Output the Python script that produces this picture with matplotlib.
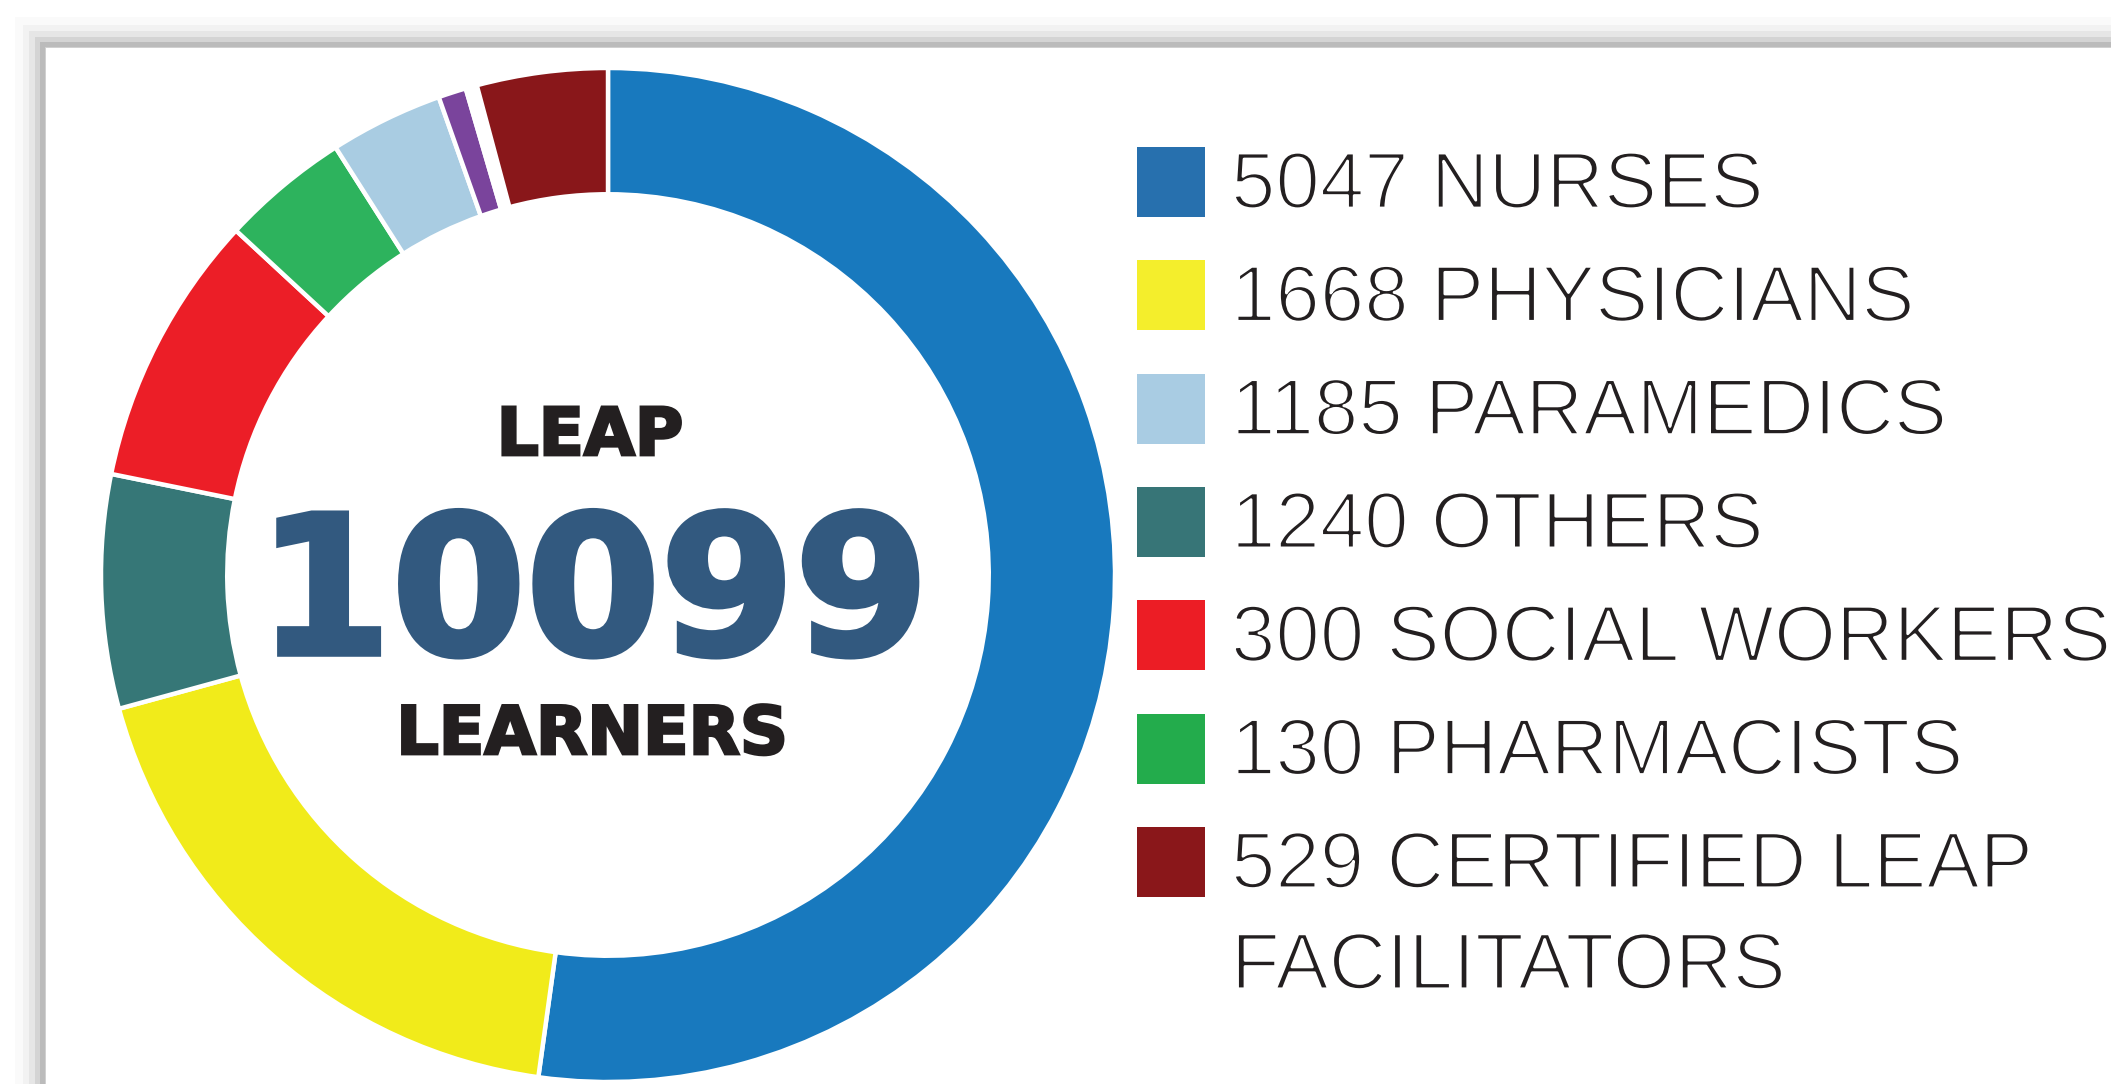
import matplotlib
matplotlib.use('Agg')
import matplotlib.pyplot as plt
import matplotlib.patheffects as pe
from matplotlib.patches import Rectangle

# ring shares, degrees clockwise from 12 o'clock
ring_parts = ['nurses', 'physicians', 'others', 'social workers', 'pharmacists',
              'paramedics', 'unlabelled', 'gap', 'facilitators']
ring_degrees = [187.9, 66.8, 26.8, 31.3, 14.7, 13.0, 3.2, 1.3, 15.0]
ring_colors = ['#1879be', '#f1eb1a', '#367777', '#ec1e27', '#2db35d',
               '#a9cce2', '#7a449c', '#ffffff', '#89171a']

legend_labels = ['5047 NURSES', '1668 PHYSICIANS', '1185 PARAMEDICS', '1240 OTHERS',
                 '300 SOCIAL WORKERS', '130 PHARMACISTS',
                 '529 CERTIFIED LEAP\nFACILITATORS']
legend_colors = ['#2770ae', '#f4ee2c', '#a9cce3', '#377577', '#ec1d25',
                 '#23ac4c', '#8a171a']

center_top = 'LEAP'
center_total = '10099'
center_bottom = 'LEARNERS'

W, H = 2111, 1084
fig = plt.figure(figsize=(W / 100, H / 100), dpi=100)
fig.patch.set_facecolor('white')

# background axes in pixel units (y down)
bg = fig.add_axes([0, 0, 1, 1], zorder=0)
bg.set_xlim(0, W)
bg.set_ylim(H, 0)
bg.axis('off')

# soft shadow on top / left of the card
card_x, card_y = 46, 48
for off, col in [(31, '#fafafa'), (23, '#f2f2f2'), (17, '#e6e6e6'),
                 (11, '#d4d4d4'), (6, '#bbbbbb'), (1, '#d0d0d0')]:
    bg.add_patch(Rectangle((card_x - off, card_y - off), W, H, color=col, lw=0))
bg.add_patch(Rectangle((card_x, card_y), W, H, color='white', lw=0))

# donut
cx, cy, R = 608, 575, 507
pad = 1.02
side = 2 * R * pad
ax = fig.add_axes([(cx - R * pad) / W, (H - cy - R * pad) / H, side / W, side / H], zorder=1)
ax.pie(ring_degrees, colors=ring_colors, startangle=90, counterclock=False, radius=1,
       wedgeprops=dict(width=0.249, edgecolor='white', linewidth=3.2))
ax.set_xlim(-pad, pad)
ax.set_ylim(-pad, pad)
ax.set_aspect('equal')
ax.axis('off')

# centre text (a same-colour stroke makes it heavier)
dark = '#231f20'
total_col = '#32597f'
bg.text(590, 455, center_top, ha='center', va='baseline', fontsize=47.5,
        family='DejaVu Sans', fontweight='bold', color=dark,
        path_effects=[pe.withStroke(linewidth=2.0, foreground=dark, joinstyle='miter')])
bg.text(593, 654, center_total, ha='center', va='baseline', fontsize=139,
        family='DejaVu Sans', fontweight='bold', color=total_col,
        path_effects=[pe.withStroke(linewidth=4, foreground=total_col, joinstyle='miter')])
bg.text(592, 754, center_bottom, ha='center', va='baseline', fontsize=48,
        family='DejaVu Sans', fontweight='bold', color=dark,
        path_effects=[pe.withStroke(linewidth=2.0, foreground=dark, joinstyle='miter')])

# legend
thin = [pe.Stroke(linewidth=2.0, foreground='white')]
row_step = 113.3
for i, (lab, col) in enumerate(zip(legend_labels, legend_colors)):
    top = 147 + i * row_step
    bg.add_patch(Rectangle((1137, top), 68, 70, color=col, lw=0))
    for k, line in enumerate(lab.split('\n')):
        bg.text(1231, top + 61 + k * 101, line, ha='left', va='baseline',
                fontsize=57.5, family=['Liberation Sans', 'DejaVu Sans'],
                color=dark, path_effects=thin)

fig.savefig('out.png', dpi=100)
